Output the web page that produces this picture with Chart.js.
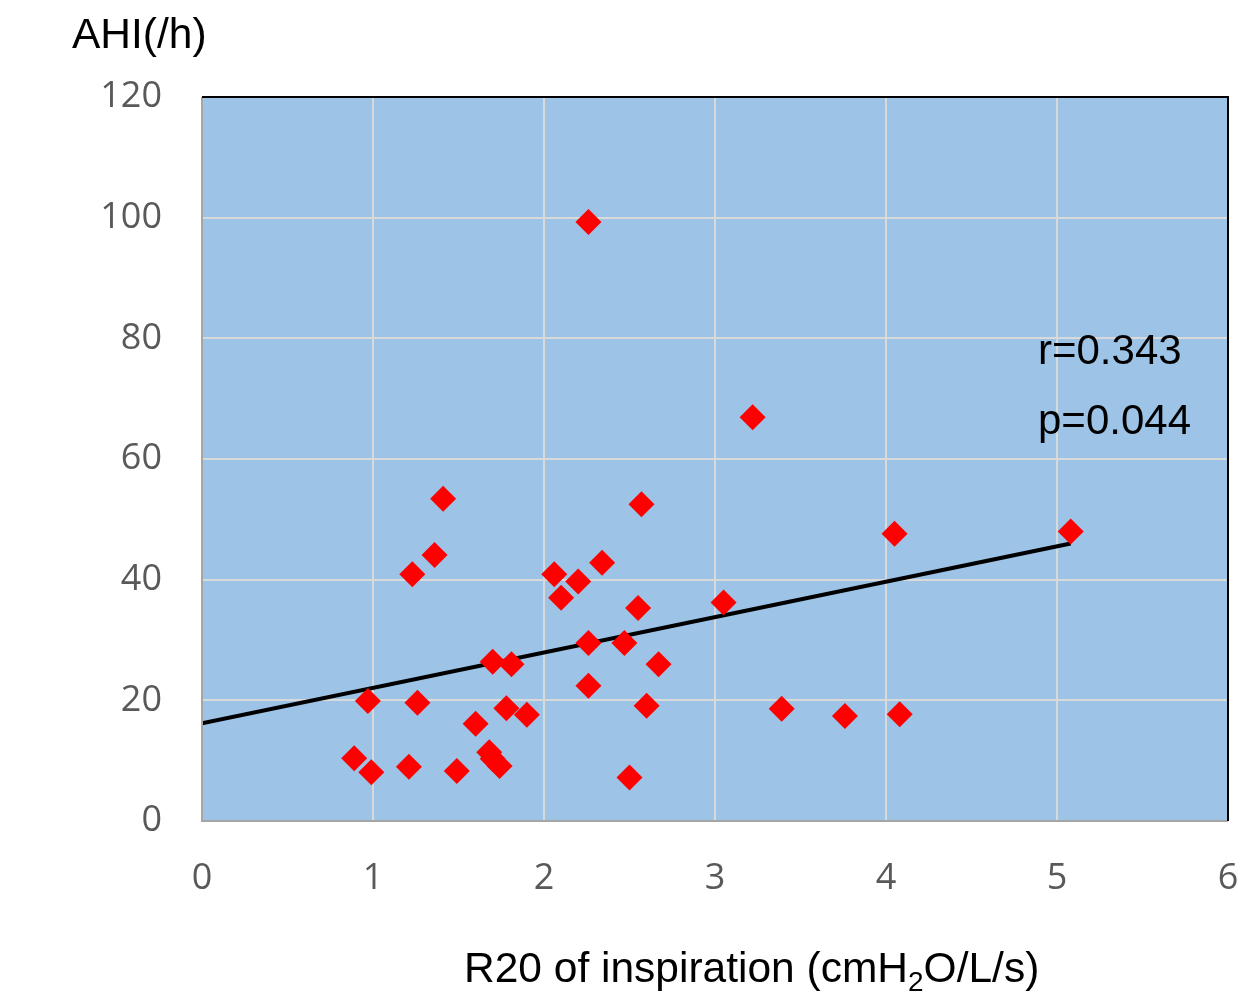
<!DOCTYPE html>
<html>
<head>
<meta charset="utf-8">
<script src="https://cdn.jsdelivr.net/npm/chart.js@4/dist/chart.umd.min.js"></script>
<style>
  html, body { margin: 0; padding: 0; background: #fff; overflow: hidden; }
  canvas { display: block; }
</style>
</head>
<body>
<canvas id="chart" width="1260" height="1004"></canvas>
<script>
// R20 of inspiration (cmH2O/L/s)
const r20 = [0.89, 0.97, 0.99, 1.21, 1.23, 1.26, 1.36, 1.41, 1.49, 1.60, 1.68, 1.70, 1.74,
  1.70, 1.81, 1.78, 1.90, 2.06, 2.10, 2.20, 2.26, 2.34, 2.26, 2.26, 2.47, 2.50, 2.55,
  2.57, 2.60, 2.67, 3.05, 3.22, 3.39, 3.76, 4.05, 4.08, 5.08];
// AHI (/h)
const ahi = [10.4, 19.9, 8.1, 9.0, 40.9, 19.6, 44.1, 53.4, 8.3, 16.1, 11.4, 10.3, 9.1,
  26.4, 26.0, 18.7, 17.6, 40.9, 37.0, 39.7, 99.3, 42.8, 29.5, 22.4, 29.5, 7.2, 35.3,
  52.5, 19.1, 26.0, 36.2, 66.9, 18.6, 17.4, 47.6, 17.7, 48.0];

// regression line end points
const trendX = [0, 5.08];
const trendY = [16.2, 46.0];

const xTicks = [0, 1, 2, 3, 4, 5, 6];
const yTicks = [0, 20, 40, 60, 80, 100, 120];

const stats = ['r=0.343', 'p=0.044'];

const points = r20.map((x, i) => ({ x: x, y: ahi[i] }));
const trend = trendX.map((x, i) => ({ x: x, y: trendY[i] }));

const FONT = '"Liberation Sans", Arial, sans-serif';

const decor = {
  id: 'decor',
  beforeDraw(chart) {
    const { ctx, chartArea: a } = chart;
    ctx.save();
    ctx.fillStyle = '#9DC3E6';
    ctx.fillRect(a.left, a.top, a.right - a.left, a.bottom - a.top);
    ctx.restore();
  },
  afterDatasetsDraw(chart) {
    const { ctx, chartArea: a } = chart;
    ctx.save();
    // frame: grey left / bottom, black top / right
    ctx.lineWidth = 2;
    ctx.strokeStyle = '#A6A6A6';
    ctx.beginPath();
    ctx.moveTo(a.left, a.top);
    ctx.lineTo(a.left, a.bottom);
    ctx.lineTo(a.right, a.bottom);
    ctx.stroke();
    ctx.strokeStyle = '#000';
    ctx.beginPath();
    ctx.moveTo(a.left, a.top);
    ctx.lineTo(a.right, a.top);
    ctx.lineTo(a.right, a.bottom);
    ctx.stroke();

    ctx.fillStyle = '#000';
    ctx.textBaseline = 'middle';
    ctx.textAlign = 'left';
    ctx.font = '42px ' + FONT;
    ctx.fillText(stats[0], 1038, 352);
    ctx.fillText(stats[1], 1038, 422);

    // y title
    ctx.font = '42.5px ' + FONT;
    ctx.fillText('AHI(/h)', 72, 36);

    // x title with subscript
    let x = 464, y = 970;
    const parts = [['R20 of inspiration (cmH', 0], ['2', 1], ['O/L/s)', 0]];
    parts.forEach(p => {
      ctx.font = (p[1] ? '28px ' : '42.5px ') + FONT;
      ctx.fillText(p[0], x, p[1] ? y + 13 : y);
      x += ctx.measureText(p[0]).width;
    });
    ctx.restore();
  }
};

new Chart(document.getElementById('chart'), {
  type: 'scatter',
  data: {
    datasets: [{
      label: 'AHI',
      data: points,
      pointStyle: 'rectRot',
      pointRadius: 13,
      pointHoverRadius: 13,
      backgroundColor: '#FF0000',
      borderColor: '#FF0000',
      borderWidth: 0
    }, {
      label: 'trend',
      type: 'line',
      data: trend,
      borderColor: '#000',
      borderWidth: 4,
      pointRadius: 0,
      fill: false
    }]
  },
  options: {
    responsive: false,
    animation: false,
    layout: { padding: { top: 97, right: 32, left: 0, bottom: 0 } },
    plugins: { legend: { display: false }, tooltip: { enabled: false } },
    scales: {
      x: {
        type: 'linear',
        min: 0, max: 6,
        afterBuildTicks: s => { s.ticks = xTicks.map(v => ({ value: v })); },
        afterFit: s => { s.height = 183; s.paddingLeft = 0; s.paddingRight = 0; },
        grid: { color: '#D9D9D9', lineWidth: 2, drawTicks: false },
        border: { display: false },
        ticks: { color: '#595959', padding: 36, maxRotation: 0, font: { family: '"Open Sans"', size: 36 } }
      },
      y: {
        min: 0, max: 120,
        afterBuildTicks: s => { s.ticks = yTicks.map(v => ({ value: v })); },
        afterFit: s => { s.width = 202; s.paddingTop = 0; s.paddingBottom = 0; },
        grid: { color: '#D9D9D9', lineWidth: 2, drawTicks: false },
        border: { display: false },
        ticks: { color: '#595959', padding: 40, font: { family: '"Open Sans"', size: 36 } }
      }
    }
  },
  plugins: [decor]
});
</script>
</body>
</html>
